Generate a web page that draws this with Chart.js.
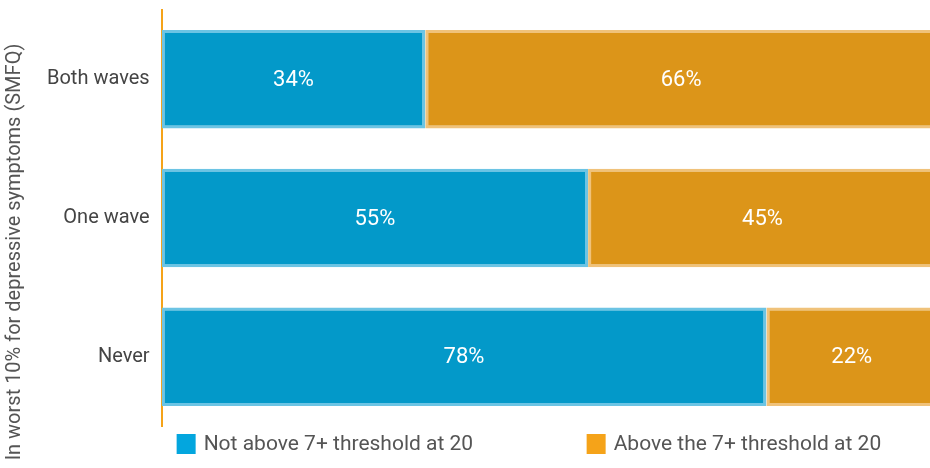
<!DOCTYPE html>
<html>
<head>
<meta charset="utf-8">
<script src="https://cdn.jsdelivr.net/npm/chart.js@4"></script>
<style>
  html, body { margin: 0; padding: 0; background: #fff; }
  #wrap { width: 930px; height: 468px; overflow: hidden; }
  #inner { width: 930px; height: 482px; margin-top: -14px; }
</style>
</head>
<body>
<div id="wrap"><div id="inner"><canvas id="chart"></canvas></div></div>
<script>
// data
const categories = ['Both waves', 'One wave', 'Never'];
const notAbove = [34, 55, 78];
const above = [66, 45, 22];
const seriesNames = ['Not above 7+ threshold at 20', 'Above the 7+ threshold at 20'];
const legendColors = ['#03A6DE', '#F5A319'];
const axisTitle = 'In worst 10% for depressive symptoms (SMFQ)';

// labels inside bars
const barLabels = {
    id: 'barLabels',
    afterDatasetsDraw(chart) {
        const ctx = chart.ctx;
        ctx.save();
        ctx.fillStyle = '#fff';
        ctx.font = '22px Roboto';
        ctx.textAlign = 'center';
        ctx.textBaseline = 'middle';
        chart.data.datasets.forEach((ds, i) => {
            chart.getDatasetMeta(i).data.forEach((bar, j) => {
                const x = (bar.x + bar.base) / 2;
                ctx.fillText(ds.data[j] + '%', x, bar.y + 1);
            });
        });
        ctx.restore();
    }
};

// rotated axis title + bottom legend (canvas is shifted up 14px)
const extras = {
    id: 'extras',
    afterDraw(chart) {
        const ctx = chart.ctx;
        const area = chart.chartArea;
        ctx.save();
        ctx.fillStyle = '#555';
        ctx.font = '20px Roboto';
        ctx.textAlign = 'center';
        ctx.textBaseline = 'middle';
        ctx.translate(15, 266);
        ctx.rotate(-Math.PI / 2);
        ctx.fillText(axisTitle, 0, 0);
        ctx.restore();

        ctx.save();
        ctx.font = '21px Roboto';
        ctx.textBaseline = 'middle';
        ctx.textAlign = 'left';
        const offsets = [15, 425];
        seriesNames.forEach((name, i) => {
            const x = area.left + offsets[i];
            ctx.fillStyle = legendColors[i];
            ctx.fillRect(x, 448, 19, 20);
            ctx.fillStyle = '#555';
            ctx.fillText(name, x + 27, 459);
        });
        ctx.restore();
    }
};

let ctx = document.getElementById('chart').getContext('2d');
let myChart = new Chart(ctx, {
    type: 'bar',
    data: {
        labels: categories,
        datasets: [{
            label: seriesNames[0],
            data: notAbove,
            backgroundColor: '#0399C9',
            borderColor: '#6CC4E4',
            borderWidth: 3,
            borderSkipped: false
        },
        {
            label: seriesNames[1],
            data: above,
            backgroundColor: '#DC9519',
            borderColor: '#F0C27A',
            borderWidth: 3,
            borderSkipped: false
        }]
    },
    options: {
        indexAxis: 'y',
        responsive: true,
        maintainAspectRatio: false,
        animation: false,
        layout: { padding: { top: 0, right: 0, left: 35, bottom: 42 } },
        datasets: { bar: { barPercentage: 0.71, categoryPercentage: 1 } },
        scales: {
            x: {
                stacked: true,
                min: 0,
                max: 99.1,
                display: false
            },
            y: {
                stacked: true,
                grid: { display: false, drawTicks: false },
                border: { color: '#F5A319', width: 2 },
                ticks: {
                    color: '#444',
                    font: { family: 'Roboto', size: 20 },
                    padding: 12
                }
            }
        },
        plugins: {
            legend: { display: false },
            tooltip: { enabled: false }
        }
    },
    plugins: [barLabels, extras]
});
</script>
</body>
</html>
